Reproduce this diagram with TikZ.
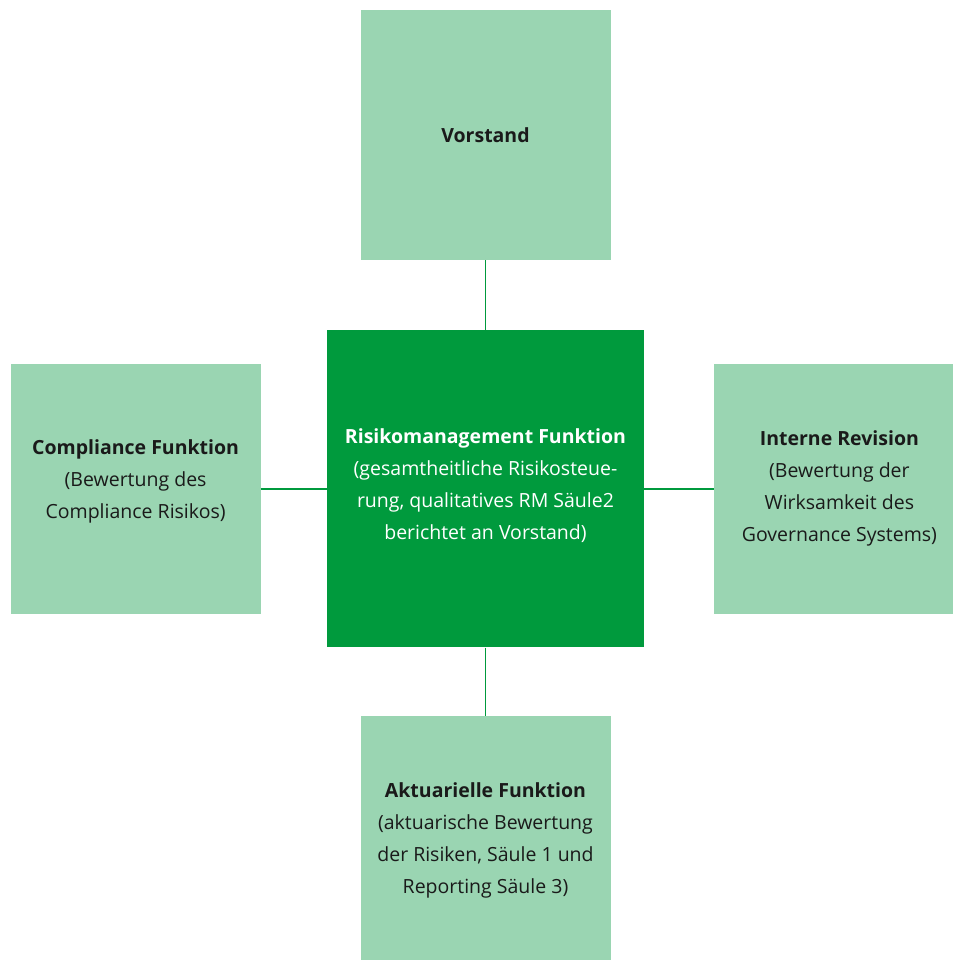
\documentclass[tikz,border=0pt]{standalone}
\usepackage{fontspec}
\setmainfont{Open Sans}
\usepackage{tikz}
\usetikzlibrary{positioning}

\definecolor{hellgruen}{HTML}{9AD5B2}
\definecolor{dunkelgruen}{HTML}{009A3D}
\definecolor{schrift}{HTML}{1A1A1A}

\begin{document}
\begin{tikzpicture}[x=1pt, y=1pt, node distance=68pt,
    box/.style={rectangle, fill=hellgruen, minimum width=250pt, minimum height=250pt,
        align=center, text=schrift, font=\fontsize{19.5}{32}\selectfont},
    mainbox/.style={rectangle, fill=dunkelgruen, minimum width=317pt, minimum height=317pt,
        align=center, text=white, font=\fontsize{19.5}{32}\selectfont},
    link/.style={draw=dunkelgruen, line width=1.8pt}]
    \useasboundingbox (0,0) rectangle (952,960);

    \node[mainbox] (rm) at (485.5,471) {\textbf{Risikomanagement Funktion}\\(gesamtheitliche Risikosteue-\\rung, qualitatives RM Säule2\\berichtet an Vorstand)\\[-22pt]};
    \node[box] (vorstand) [above=70pt of rm] {\textbf{Vorstand}};
    \node[box] (compliance) [left=66pt of rm] {\textbf{Compliance Funktion}\\(Bewertung des\\Compliance Risikos)\\[-13pt]};
    \node[box] (revision) [right=70pt of rm] {\textbf{Interne Revision}\\(Bewertung der\\Wirksamkeit des\\Governance Systems)\\[-26pt]};
    \node[box] (aktuar) [below=of rm] {\textbf{Aktuarielle Funktion}\\(aktuarische Bewertung\\der Risiken, Säule 1 und\\Reporting Säule 3)};

    % Verbindungen
    \draw[link] (vorstand) -- (rm);
    \draw[link] (compliance) -- (rm);
    \draw[link] (rm) -- (revision);
    \draw[link] (rm) -- (aktuar);
\end{tikzpicture}
\end{document}
